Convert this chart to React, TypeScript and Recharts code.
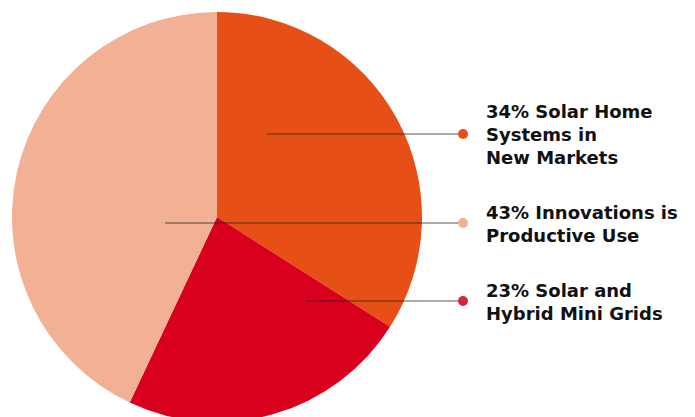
import { PieChart, Pie, Cell } from "recharts";

const SEGMENTS = ["Solar Home Systems", "Solar and Hybrid Mini Grids", "Innovations is Productive Use"];
const SHARES = [34, 23, 43];
const COLORS = ["#E65016", "#D8001C", "#F2B094"];
const DOT_COLORS = ["#E65016", "#D7263D", "#F2B094"];
const LABEL_LINES = [
  ["34% Solar Home", "Systems in", "New Markets"],
  ["23% Solar and", "Hybrid Mini Grids"],
  ["43% Innovations is", "Productive Use"],
];

// where each leader line starts, relative to the pie centre
const LEADER_START = [
  { dx: 50, dy: -83 },
  { dx: 89, dy: 84 },
  { dx: -52, dy: 6 },
];

const data = SEGMENTS.map((name, i) => ({ name, value: SHARES[i] }));

const DOT_X = 463;
const TEXT_X = 486;
const LINE_H = 23;

// ── leader line + dot + wrapped text ──
function renderLabel(props: any) {
  const { cx, cy, index } = props;
  const s = LEADER_START[index];
  const x0 = cx + s.dx;
  const y = cy + s.dy;
  const lines = LABEL_LINES[index];
  const first = y + 7 - ((lines.length - 1) * LINE_H) / 2;
  return (
    <g key={`lbl-${index}`}>
      <line x1={x0} y1={y} x2={DOT_X} y2={y} stroke="#222" strokeOpacity={0.75} strokeWidth={1.2} />
      <circle cx={DOT_X} cy={y} r={5} fill={DOT_COLORS[index]} />
      <text
        x={TEXT_X}
        y={first}
        fill="#111"
        fontSize={18}
        fontWeight={700}
        fontFamily="'DejaVu Sans', sans-serif"
      >
        {lines.map((l, k) => (
          <tspan key={k} x={TEXT_X} y={first + k * LINE_H}>
            {l}
          </tspan>
        ))}
      </text>
    </g>
  );
}

export default function App() {
  return (
    <div style={{ position: "absolute", left: 0, top: 0, background: "#fff" }}>
      <PieChart width={695} height={417} margin={{ top: 0, right: 0, bottom: 0, left: 0 }}>
        <Pie
          data={data}
          dataKey="value"
          nameKey="name"
          cx={217}
          cy={217}
          outerRadius={205}
          startAngle={90}
          endAngle={-270}
          stroke="none"
          label={renderLabel}
          labelLine={false}
          isAnimationActive={false}
        >
          {data.map((_, i) => (
            <Cell key={`cell-${i}`} fill={COLORS[i]} />
          ))}
        </Pie>
      </PieChart>
    </div>
  );
}
